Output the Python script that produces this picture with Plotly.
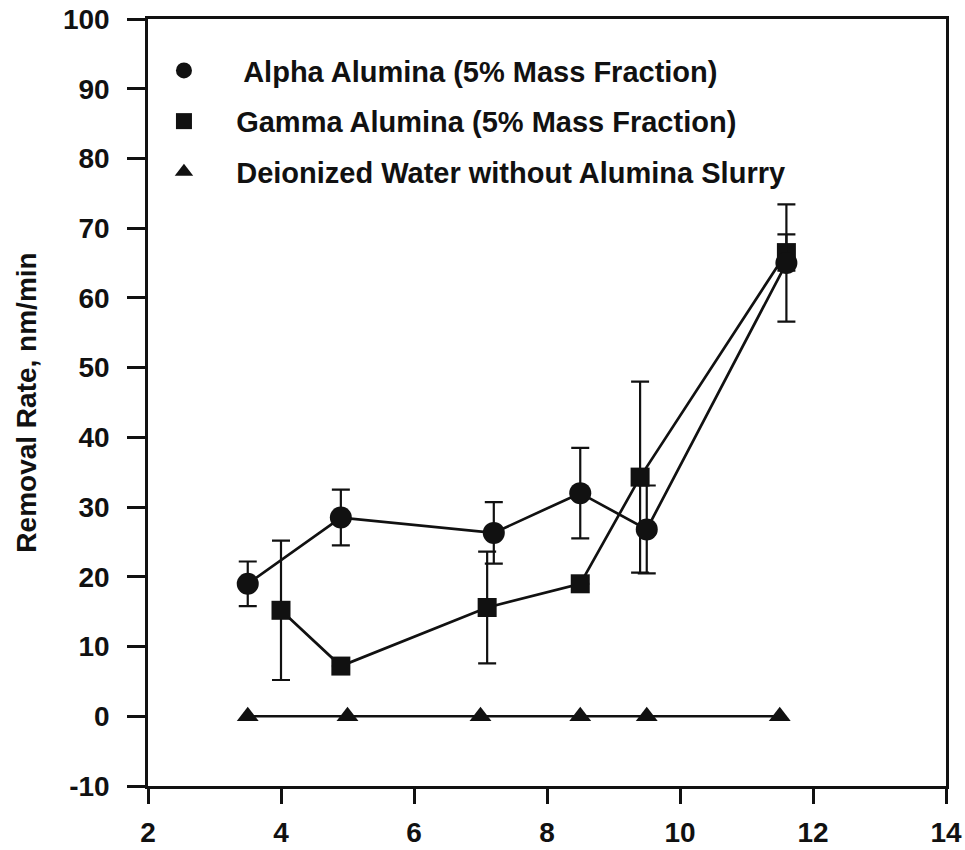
import plotly.graph_objects as go

# Removal rate vs pH for two alumina slurries and a DI water baseline
alpha_x = [3.5, 4.9, 7.2, 8.5, 9.5, 11.6]
alpha_y = [19.0, 28.5, 26.3, 32.0, 26.8, 65.0]
alpha_err = [3.2, 4.0, 4.4, 6.5, 6.3, 8.4]

gamma_x = [4.0, 4.9, 7.1, 8.5, 9.4, 11.6]
gamma_y = [15.2, 7.2, 15.6, 19.0, 34.3, 66.5]
gamma_err = [10.0, 0.0, 8.0, 0.0, 13.7, 2.6]

water_x = [3.5, 5.0, 7.0, 8.5, 9.5, 11.5]
water_y = [0.0, 0.0, 0.0, 0.0, 0.0, 0.0]

legend_names = [
    "     Alpha Alumina (5% Mass Fraction)",
    "    Gamma Alumina (5% Mass Fraction)",
    "    Deionized Water without Alumina Slurry",
]

x_ticks = [2, 4, 6, 8, 10, 12, 14]
y_ticks = [-10, 0, 10, 20, 30, 40, 50, 60, 70, 80, 90, 100]
y_tick_text = ["-10", "0", "10", "20", "30", "40", "50", "60", "70", "80", "90", "100"]

FONT = "Liberation Sans, Arial, sans-serif"
INK = "#111111"

fig = go.Figure()

err_style = dict(type="data", visible=True, color=INK, thickness=2.2, width=9)
line_style = dict(color=INK, width=2.7)

fig.add_trace(go.Scatter(
    x=gamma_x, y=gamma_y, mode="lines+markers", showlegend=False,
    line=line_style,
    marker=dict(symbol="square", size=19, color=INK),
    error_y=dict(array=gamma_err, **err_style),
))
fig.add_trace(go.Scatter(
    x=alpha_x, y=alpha_y, mode="lines+markers", showlegend=False,
    line=line_style,
    marker=dict(symbol="circle", size=22, color=INK),
    error_y=dict(array=alpha_err, **err_style),
))
fig.add_trace(go.Scatter(
    x=water_x, y=water_y, mode="lines+markers", showlegend=False,
    line=line_style,
    marker=dict(symbol="triangle-up", size=19, color=INK),
))

# Marker-only legend entries
for name, sym, size in zip(legend_names, ["circle", "square", "triangle-up"], [21, 18, 19]):
    fig.add_trace(go.Scatter(
        x=[None], y=[None], mode="markers", name=name, legendgroup=name,
        marker=dict(symbol=sym, size=size, color=INK),
    ))

axis_common = dict(
    showgrid=False, zeroline=False, showline=True, linecolor=INK, linewidth=2.5,
    mirror=True, ticks="outside", tickwidth=2.5, tickcolor=INK, automargin=False,
    tickfont=dict(family=FONT, size=28, color=INK, weight="bold"),
)

fig.update_xaxes(range=[2, 14], tickvals=x_ticks, ticklen=15,
                 ticklabelstandoff=5, **axis_common)
fig.update_yaxes(
    range=[-10, 100], tickvals=y_ticks, ticktext=y_tick_text,
    ticklen=18, ticklabelstandoff=12,
    title=dict(text="Removal Rate, nm/min", standoff=19,
               font=dict(family=FONT, size=28, color=INK, weight="bold")),
    **axis_common,
)

fig.update_layout(
    width=965, height=850,
    margin=dict(l=148, r=19, t=19, b=64),
    paper_bgcolor="white", plot_bgcolor="white",
    showlegend=True,
    legend=dict(
        x=0.02, y=0.966, xanchor="left", yanchor="top",
        bgcolor="rgba(0,0,0,0)", tracegroupgap=10,
        font=dict(family=FONT, size=29, color=INK, weight="bold"),
        itemsizing="trace",
    ),
)

fig.write_html("out.html")
